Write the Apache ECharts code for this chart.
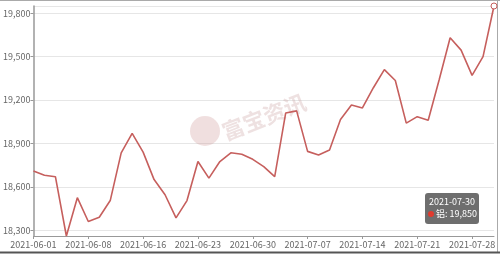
<!DOCTYPE html>
<html>
<head>
<meta charset="utf-8">
<style>
html,body{margin:0;padding:0;background:#fff;}
#c{width:500px;height:256px;}
</style>
<script src="https://cdn.jsdelivr.net/npm/echarts@6/dist/echarts.min.js"></script>
</head>
<body>
<div id="c"></div>
<script>
var seriesName = '铝';
var dates = [
  '2021-06-01','2021-06-02','2021-06-03','2021-06-04','2021-06-07','2021-06-08','2021-06-09','2021-06-10','2021-06-11',
  '2021-06-15','2021-06-16','2021-06-17','2021-06-18','2021-06-21','2021-06-22','2021-06-23','2021-06-24','2021-06-25',
  '2021-06-28','2021-06-29','2021-06-30','2021-07-01','2021-07-02','2021-07-05','2021-07-06','2021-07-07','2021-07-08',
  '2021-07-09','2021-07-12','2021-07-13','2021-07-14','2021-07-15','2021-07-16','2021-07-19','2021-07-20','2021-07-21',
  '2021-07-22','2021-07-23','2021-07-26','2021-07-27','2021-07-28','2021-07-29','2021-07-30'
];
var prices = [
  18710,18680,18670,18260,18525,18360,18390,18505,18835,
  18970,18840,18650,18545,18385,18505,18775,18660,18775,
  18835,18825,18790,18740,18670,19110,19125,18845,18820,
  18855,19065,19165,19145,19285,19410,19335,19040,19085,
  19060,19340,19630,19545,19370,19500,19850
];

var lineColor = '#c65f5d';
var lastIdx = prices.length - 1;

var chart = echarts.init(document.getElementById('c'), null, { renderer: 'canvas' });
var font = '"Noto Sans CJK SC", "Noto Sans", sans-serif';

function fmt(n) { return n.toString().replace(/\B(?=(\d{3})+(?!\d))/g, ','); }

chart.setOption({
  animation: false,
  backgroundColor: '#fff',
  grid: { left: 28, right: 6, top: 6, bottom: 20, containLabel: false },
  xAxis: {
    type: 'category',
    data: dates,
    boundaryGap: false,
    axisLine: { lineStyle: { color: '#999', width: 1 } },
    axisTick: { show: true, interval: 4, length: 3, lineStyle: { color: '#999' } },
    axisLabel: { interval: 4, color: '#666', fontSize: 9, margin: 4, fontFamily: font },
    splitLine: { show: false }
  },
  yAxis: {
    type: 'value',
    min: 'dataMin',
    max: 'dataMax',
    axisLine: { show: true, lineStyle: { color: '#999', width: 1.5 } },
    axisTick: { show: true, length: 3, lineStyle: { color: '#999' } },
    axisLabel: {
      color: '#666', fontSize: 9, margin: 3, fontFamily: font,
      showMinLabel: false, showMaxLabel: false,
      formatter: function (v) { return fmt(v); }
    },
    splitLine: { show: true, lineStyle: { color: '#e6e6e6', width: 1 } }
  },
  series: [{
    name: seriesName,
    type: 'line',
    data: prices,
    symbol: 'none',
    smooth: false,
    lineStyle: { color: lineColor, width: 1.6 },
    z: 3,
    markPoint: {
      symbol: 'circle',
      symbolSize: 6,
      silent: true,
      label: { show: false },
      itemStyle: { color: '#fff', borderColor: lineColor, borderWidth: 1 },
      data: [{ coord: [dates[lastIdx], prices[lastIdx]] }]
    }
  }],
  graphic: [
    // watermark logo
    { type: 'circle', shape: { cx: 205, cy: 131, r: 15 }, style: { fill: 'rgba(205,150,150,0.30)' }, z: 1, silent: true },
    { type: 'text', x: 264, y: 117, rotation: 0.37, style: { text: '富宝资讯', fill: 'rgba(205,170,170,0.35)', font: 'bold 22px ' + font, textAlign: 'center', textVerticalAlign: 'middle' }, z: 1, silent: true },
    // frame lines
    { type: 'line', shape: { x1: 0, y1: 0.5, x2: 500, y2: 0.5 }, style: { stroke: '#aaa', lineWidth: 1 }, silent: true },
    { type: 'line', shape: { x1: 497.5, y1: 0, x2: 497.5, y2: 252 }, style: { stroke: '#aaa', lineWidth: 1 }, silent: true },
    { type: 'line', shape: { x1: 0, y1: 252.5, x2: 500, y2: 252.5 }, style: { stroke: '#555', lineWidth: 2 }, silent: true },
    // tooltip
    { type: 'rect', shape: { x: 425, y: 193, width: 54, height: 31, r: 3 }, style: { fill: 'rgba(85,85,85,0.85)' }, z: 10, silent: true },
    { type: 'text', x: 452, y: 202, style: { text: dates[lastIdx], fill: '#fff', font: '9px ' + font, textAlign: 'center', textVerticalAlign: 'middle' }, z: 11, silent: true },
    { type: 'circle', shape: { cx: 431, cy: 214, r: 3 }, style: { fill: '#e03a2e' }, z: 11, silent: true },
    { type: 'text', x: 436, y: 214, style: { text: seriesName + ': ' + fmt(prices[lastIdx]), fill: '#fff', font: '9px ' + font, textAlign: 'left', textVerticalAlign: 'middle' }, z: 11, silent: true }
  ]
});
</script>
</body>
</html>
